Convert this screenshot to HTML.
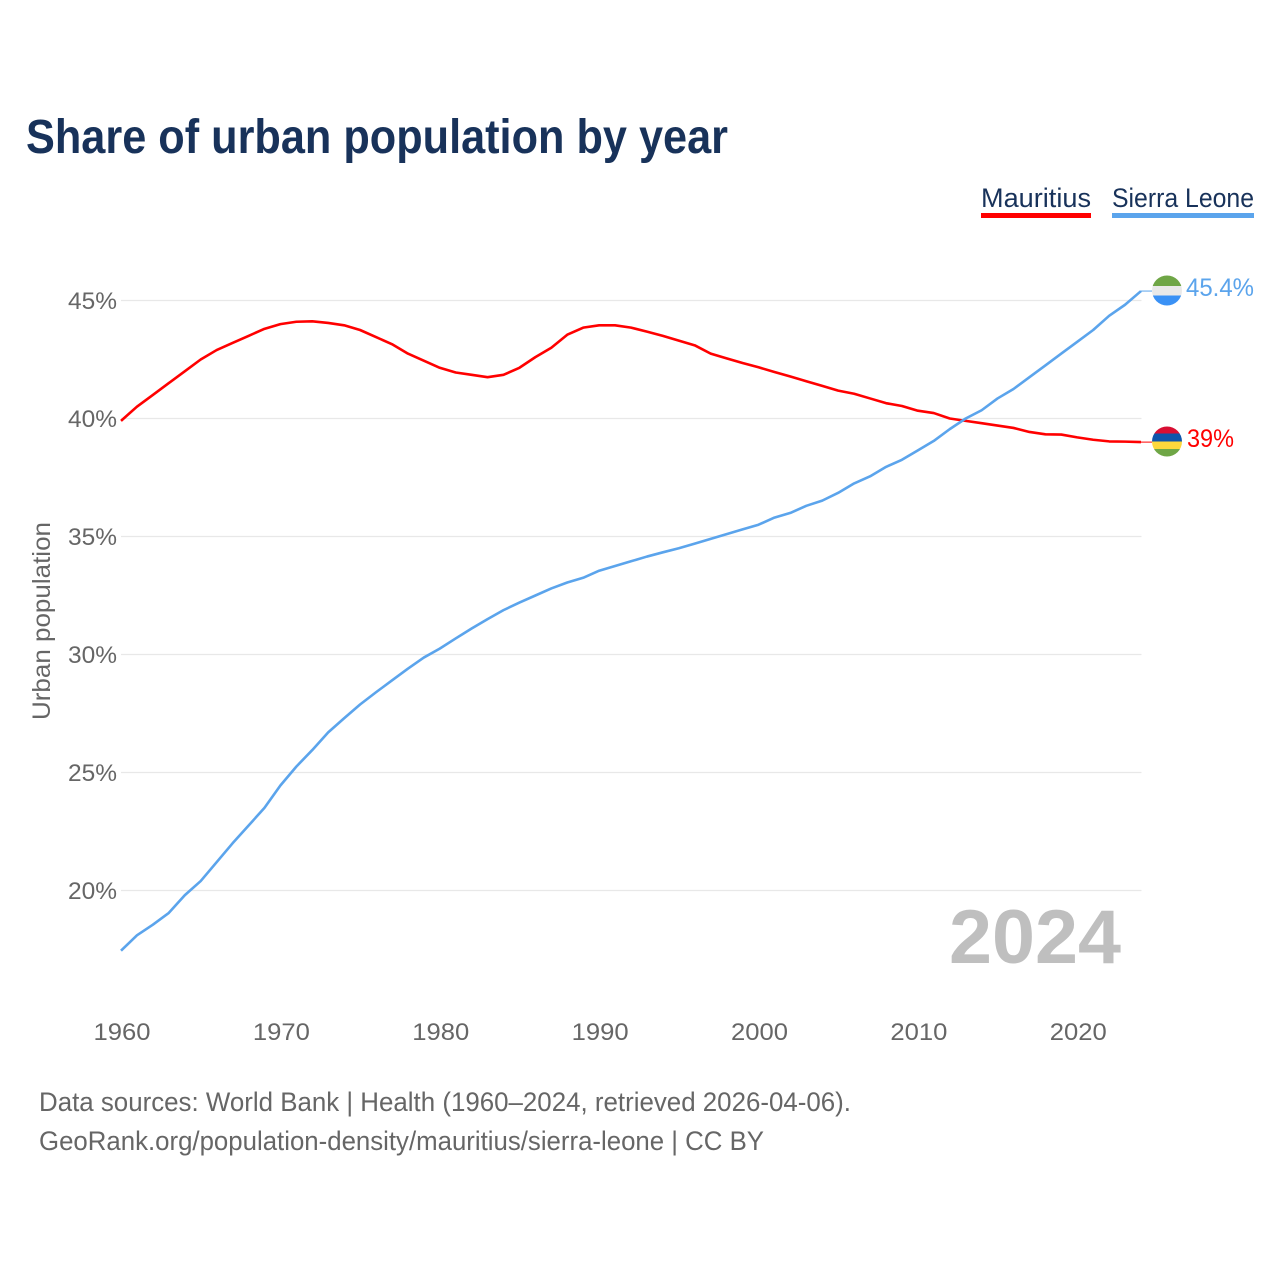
<!DOCTYPE html>
<html lang="en">
<head>
<meta charset="utf-8">
<title>Share of urban population by year</title>
<style>
html,body{margin:0;padding:0;background:#fff;width:1280px;height:1280px;overflow:hidden}
svg{display:block;font-family:"Liberation Sans",sans-serif}
</style>
</head>
<body>
<svg id="chart" width="1280" height="1280" viewBox="0 0 1280 1280" xmlns="http://www.w3.org/2000/svg">
  <defs>
    <clipPath id="clip-sl"><circle cx="1167" cy="290.500" r="15"/></clipPath>
    <clipPath id="clip-mu"><circle cx="1167" cy="441.500" r="15"/></clipPath>
  </defs>
  <rect width="1280" height="1280" fill="#fff"/>
  <text x="26" y="153" font-size="48" font-weight="700" fill="#18325a" textLength="702" lengthAdjust="spacingAndGlyphs">Share of urban population by year</text>

  <g>
    <text x="981" y="207" font-size="27" fill="#18325a" textLength="110" lengthAdjust="spacingAndGlyphs">Mauritius</text>
    <rect x="981" y="213" width="110" height="5" fill="#ff0000"/>
  </g>
  <g>
    <text x="1112" y="207" font-size="27" fill="#18325a" textLength="142" lengthAdjust="spacingAndGlyphs">Sierra Leone</text>
    <rect x="1112" y="213" width="142" height="5" fill="#5ba4ec"/>
  </g>

  <g id="grid"></g>
  <g id="yticks"></g>
  <g id="xticks"></g>
  <text transform="translate(50,621) rotate(-90)" text-anchor="middle" font-size="25" fill="#666" textLength="198" lengthAdjust="spacingAndGlyphs">Urban population</text>
  <g id="series"></g>

  <g clip-path="url(#clip-sl)">
    <rect x="1152" y="275" width="30" height="11" fill="#6fa646"/>
    <rect x="1152" y="286" width="30" height="9.500" fill="#e9e9e9"/>
    <rect x="1152" y="295.500" width="30" height="11" fill="#3a91f5"/>
  </g>
  <g clip-path="url(#clip-mu)">
    <rect x="1152" y="426" width="30" height="7.500" fill="#d80f33"/>
    <rect x="1152" y="433.500" width="30" height="8" fill="#0e55ab"/>
    <rect x="1152" y="441.500" width="30" height="7.500" fill="#fdd83c"/>
    <rect x="1152" y="449" width="30" height="8" fill="#6fa646"/>
  </g>

  <text id="end-label-sl" x="1186" y="296" font-size="25" fill="#5ba4ec" textLength="68" lengthAdjust="spacingAndGlyphs"></text>
  <text id="end-label-mu" x="1187" y="447" font-size="25" fill="#ff0000" textLength="47" lengthAdjust="spacingAndGlyphs"></text>

  <text x="949" y="963" font-size="76" font-weight="700" fill="#bfbfbf" textLength="172" lengthAdjust="spacingAndGlyphs">2024</text>

  <text x="39" y="1111" font-size="26.500" fill="#666" textLength="812" lengthAdjust="spacingAndGlyphs">Data sources: World Bank | Health (1960–2024, retrieved 2026-04-06).</text>
  <text x="39" y="1150" font-size="26.500" fill="#666" textLength="725" lengthAdjust="spacingAndGlyphs">GeoRank.org/population-density/mauritius/sierra-leone | CC BY</text>
</svg>
<script>
var startYear = 1960;
var mauritius = [39.9,40.5,41,41.5,42,42.5,42.9,43.2,43.5,43.8,44,44.1,44.12,44.05,43.95,43.75,43.45,43.15,42.75,42.45,42.15,41.95,41.85,41.75,41.85,42.15,42.6,43,43.55,43.85,43.95,43.95,43.85,43.68,43.5,43.3,43.1,42.75,42.55,42.35,42.17,41.97,41.78,41.58,41.38,41.18,41.05,40.85,40.65,40.53,40.33,40.23,40,39.9,39.8,39.7,39.6,39.43,39.33,39.32,39.2,39.1,39.03,39.02,39];
var sierraLeone = [17.45,18.1,18.55,19.05,19.8,20.4,21.2,22,22.75,23.5,24.45,25.25,25.95,26.7,27.3,27.88,28.4,28.9,29.4,29.87,30.25,30.68,31.1,31.5,31.88,32.2,32.5,32.8,33.05,33.25,33.55,33.75,33.95,34.15,34.33,34.5,34.7,34.9,35.1,35.3,35.5,35.8,36,36.3,36.52,36.85,37.25,37.55,37.95,38.25,38.65,39.05,39.55,40,40.35,40.85,41.25,41.75,42.25,42.75,43.25,43.75,44.35,44.82,45.4];
var yTickValues = [20,25,30,35,40,45];
var xTickValues = [1960,1970,1980,1990,2000,2010,2020];
var endLabelMauritius = '39%';
var endLabelSierraLeone = '45.4%';

var SVGNS = 'http://www.w3.org/2000/svg';
function xScale(year){ return 121 + (year - 1960) * (1141 - 121) / 64; }
function yScale(v){ return 418.5 - (v - 40) * 23.6; }
function mk(tag, attrs){
  var el = document.createElementNS(SVGNS, tag);
  for (var k in attrs) el.setAttribute(k, attrs[k]);
  return el;
}
var grid = document.getElementById('grid');
var yticks = document.getElementById('yticks');
var xticks = document.getElementById('xticks');
var series = document.getElementById('series');

yTickValues.forEach(function(v){
  var line = mk('line', {x1:121, x2:1141.5, y1:yScale(v), y2:yScale(v), stroke:'#e8e8e8', 'stroke-width':1.300});
  
  
  grid.appendChild(line);
  var t = mk('text', {x:117, y:yScale(v)+8.500, 'text-anchor':'end', 'font-size':24.500, fill:'#666', textLength:49, lengthAdjust:'spacingAndGlyphs'});
  
  
  t.textContent = v + '%';
  yticks.appendChild(t);
});
xTickValues.forEach(function(y){
  var t = mk('text', {x:xScale(y)+1, y:1040, 'text-anchor':'middle', 'font-size':24.500, fill:'#666', textLength:57, lengthAdjust:'spacingAndGlyphs'});
  
  
  t.textContent = y;
  xticks.appendChild(t);
});
function pathFor(values){
  return values.map(function(v, i){
    return (i ? 'L' : 'M') + xScale(startYear + i).toFixed(2) + ' ' + yScale(v).toFixed(2);
  }).join(' ');
}
function drawConnector(values, color){
  var last = values[values.length - 1];
  var c = mk('line', {x1:1141, x2:1152, y1:yScale(last), y2:yScale(last), stroke:color, 'stroke-width':1});
  
  
  series.appendChild(c);
}
var lineMu = mk('path', {d:pathFor(mauritius), fill:'none', stroke:'#ff0000', 'stroke-width':2.600, 'stroke-linejoin':'round'});


series.appendChild(lineMu);
drawConnector(mauritius, '#ff0000');
var lineSl = mk('path', {d:pathFor(sierraLeone), fill:'none', stroke:'#5ba4ec', 'stroke-width':2.600, 'stroke-linejoin':'round'});


series.appendChild(lineSl);
drawConnector(sierraLeone, '#5ba4ec');
document.getElementById('end-label-sl').textContent = endLabelSierraLeone;
document.getElementById('end-label-mu').textContent = endLabelMauritius;
</script>
</body>
</html>
